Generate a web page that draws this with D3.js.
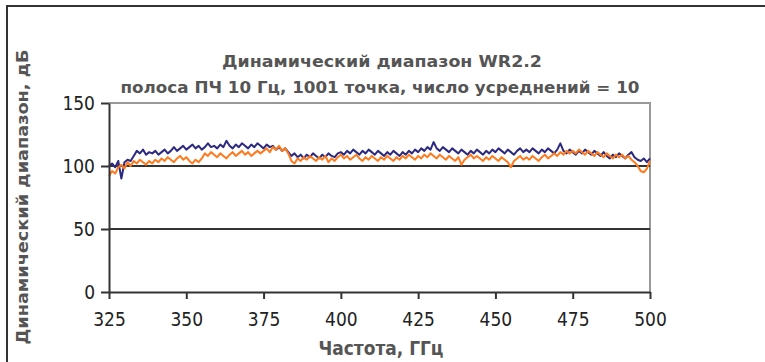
<!DOCTYPE html>
<html>
<head>
<meta charset="utf-8">
<script src="https://cdn.jsdelivr.net/npm/d3@7"></script>
<style>
  body { margin: 0; background: #fff; }
  svg { display: block; }
</style>
</head>
<body>
<svg id="chart" width="765" height="362"></svg>
<script>
// Frequency grid, GHz (one sample per GHz)
const freqStart = 325;
const freqStep = 1;

// Dynamic range, dB, series 1 (dark blue)
const seriesBlue = [
  100,102,99,104,90,103,105,104,108,112,
  110,113,109,111,110,112,109,111,113,110,
  112,115,112,114,116,113,115,117,114,116,
  113,115,118,115,116,114,117,115,120,116,
  114,117,115,118,116,114,117,115,118,116,
  114,117,115,116,113,115,112,114,111,108,
  110,107,109,106,109,107,110,108,106,109,
  107,110,108,107,110,111,109,112,110,113,
  111,109,112,110,113,111,109,112,110,108,
  111,109,112,110,108,111,109,112,110,113,
  111,114,112,115,113,119,114,112,115,113,
  111,114,112,110,113,111,109,112,110,113,
  111,109,112,110,113,111,114,112,110,113,
  111,109,112,114,111,113,111,114,112,110,
  113,111,114,112,110,113,118,112,110,113,
  111,109,112,110,113,111,109,112,110,108,
  111,108,106,109,107,110,108,106,109,111,
  107,105,104,106,103,106
];

// Dynamic range, dB, series 2 (orange)
const seriesOrange = [
  92,96,94,99,101,98,103,100,104,102,
  105,103,101,104,102,105,103,106,104,107,
  105,103,106,108,105,107,104,102,105,103,
  106,110,108,111,109,107,110,108,106,109,
  111,108,110,112,109,111,108,110,112,110,
  112,114,111,115,113,116,112,114,110,104,
  102,106,104,107,105,108,106,104,107,105,
  108,103,106,104,107,109,106,108,105,107,
  109,106,104,107,105,108,106,104,107,105,
  108,106,104,107,105,108,106,109,107,105,
  108,106,109,107,110,108,106,109,107,105,
  108,106,104,107,101,105,107,109,106,108,
  106,104,107,105,108,106,104,107,105,103,
  99,104,106,108,105,107,105,108,106,104,
  107,109,106,108,110,108,111,109,112,110,
  112,110,113,111,109,112,110,108,111,109,
  107,110,108,106,109,107,109,106,108,105,
  103,100,96,95,98,104
];

const xTicks = [325, 350, 375, 400, 425, 450, 475, 500];
const yTicks = [0, 50, 100, 150];
const gridValues = [50, 100];

const titleLines = ['Динамический диапазон WR2.2', 'полоса ПЧ 10 Гц, 1001 точка, число усреднений = 10'];
const xTitle = 'Частота, ГГц';
const yTitle = 'Динамический диапазон, дБ';

const svg = d3.select('#chart');
const plotLeft = 109, plotRight = 650, plotTop = 103, plotBottom = 292;
const tickFont = '"Liberation Sans Narrow", "Arial Narrow", "DejaVu Sans Condensed", sans-serif';

const x = d3.scaleLinear().domain([325, 500]).range([plotLeft, plotRight]);
const y = d3.scaleLinear().domain([0, 150]).range([plotBottom, plotTop]);

// outer frame (only top and left are visible in the crop)
svg.append('path')
  .attr('d', 'M7,362V6H765')
  .attr('fill', 'none')
  .attr('stroke', '#333')
  .attr('stroke-width', 2);

// top and right borders of the plot area
svg.append('path')
  .attr('d', `M${plotLeft},${y(150)}H${x(500)}V${y(0)}`)
  .attr('fill', 'none')
  .attr('stroke', '#999')
  .attr('stroke-width', 2);

// gridlines
svg.append('g').selectAll('line')
  .data(gridValues)
  .enter()
  .append('line')
  .attr('x1', plotLeft)
  .attr('x2', plotRight)
  .attr('y1', d => y(d))
  .attr('y2', d => y(d))
  .attr('stroke', '#333')
  .attr('stroke-width', 2);

// series
const pts = arr => arr.map((v, i) => [freqStart + i * freqStep, v]);
const line = d3.line().x(d => x(d[0])).y(d => y(d[1]));

svg.append('path')
  .datum(pts(seriesBlue))
  .attr('d', line)
  .attr('fill', 'none')
  .attr('stroke', '#2c2a80')
  .attr('stroke-width', 2)
  .attr('stroke-linejoin', 'round');

svg.append('path')
  .datum(pts(seriesOrange))
  .attr('d', line)
  .attr('fill', 'none')
  .attr('stroke', '#ff7a1c')
  .attr('stroke-width', 2)
  .attr('stroke-linejoin', 'round');

// axes
const xAxis = svg.append('g')
  .attr('transform', `translate(0,${plotBottom})`)
  .call(d3.axisBottom(x).tickValues(xTicks).tickSize(7).tickSizeOuter(0).tickPadding(14));
const yAxis = svg.append('g')
  .attr('transform', `translate(${plotLeft},0)`)
  .call(d3.axisLeft(y).tickValues(yTicks).tickSize(8).tickSizeOuter(0).tickPadding(6));

[xAxis, yAxis].forEach(g => {
  g.select('.domain').attr('stroke', '#333').attr('stroke-width', 2);
  g.selectAll('.tick line').attr('stroke', '#333').attr('stroke-width', 2);
  g.selectAll('.tick text')
    .attr('fill', '#222')
    .style('font-family', tickFont)
    .style('font-size', '19px');
});
yAxis.selectAll('.tick text').attr('dy', '0.36em');

// titles
const title = svg.append('g')
  .attr('fill', '#555')
  .style('font-family', '"DejaVu Sans", sans-serif')
  .style('font-weight', 'bold')
  .style('font-size', '16px')
  .attr('text-anchor', 'middle');
title.append('text').attr('x', 382).attr('y', 67).text(titleLines[0])
  .attr('textLength', 320).attr('lengthAdjust', 'spacingAndGlyphs');
title.append('text').attr('x', 380).attr('y', 93).text(titleLines[1])
  .attr('textLength', 519).attr('lengthAdjust', 'spacingAndGlyphs');

svg.append('text')
  .attr('x', 381)
  .attr('y', 355)
  .attr('text-anchor', 'middle')
  .attr('fill', '#555')
  .style('font-family', tickFont)
  .style('font-weight', 'bold')
  .style('font-size', '19px')
  .attr('textLength', 125)
  .attr('lengthAdjust', 'spacingAndGlyphs')
  .text(xTitle);

svg.append('text')
  .attr('transform', 'translate(28,197) rotate(-90)')
  .attr('text-anchor', 'middle')
  .attr('fill', '#555')
  .style('font-family', '"DejaVu Sans", sans-serif')
  .style('font-weight', 'bold')
  .style('font-size', '15px')
  .attr('textLength', 295)
  .attr('lengthAdjust', 'spacingAndGlyphs')
  .text(yTitle);
</script>
</body>
</html>
